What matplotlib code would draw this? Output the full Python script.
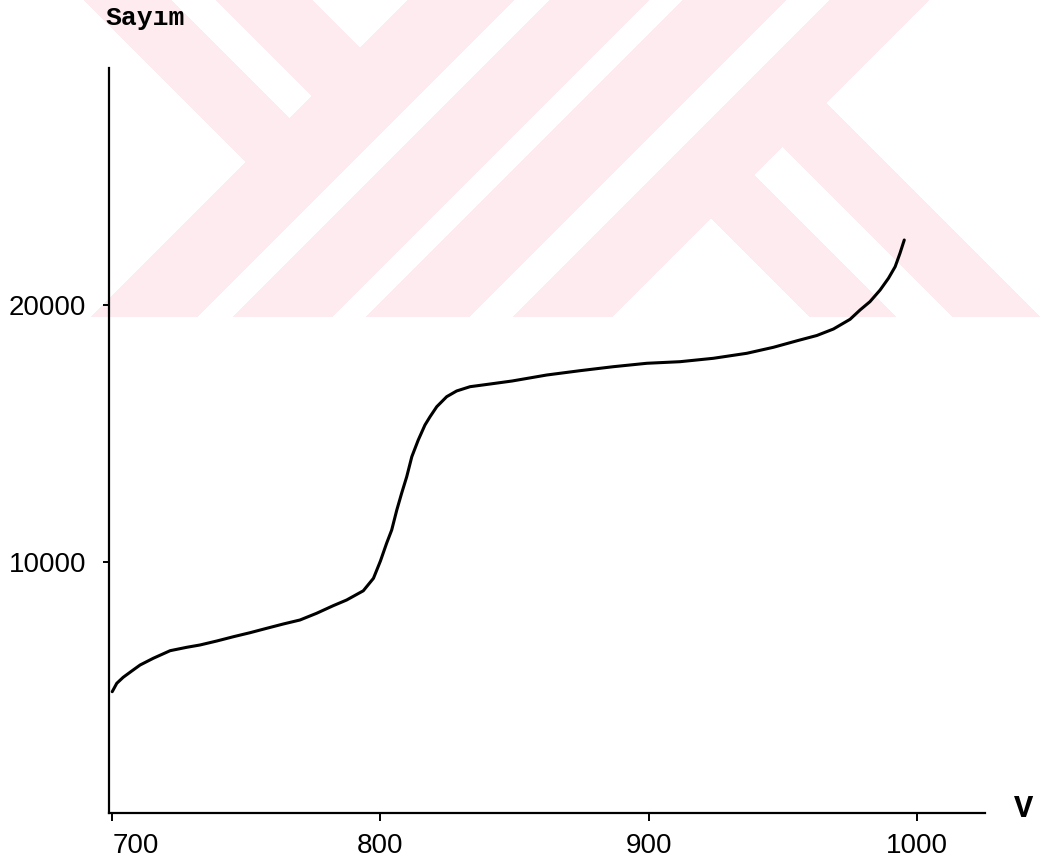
import numpy as np
import matplotlib
matplotlib.use("Agg")
import matplotlib.pyplot as plt

# ---- data ----
volts = [700, 701.7, 704.1, 707.3, 710.4, 715.3, 721.6, 727.8, 732.7, 739, 745.2,
         751.4, 757.6, 763.8, 770, 776.2, 782.4, 787.4, 793.6, 797.4, 800, 802.3,
         804.2, 806.1, 807.9, 809.8, 811.7, 814.1, 816.6, 818.5, 821, 824.7, 828.4,
         833.4, 840.9, 849.1, 862, 874.4, 886.8, 899.3, 911.7, 924.1, 936.6, 946.5,
         955.7, 962.7, 968.9, 975.1, 978.8, 982.5, 986.3, 989.4, 991.9, 993.7, 995.3]
counts = [4953, 5280, 5514, 5759, 5992, 6253, 6549, 6681, 6770, 6926, 7093,
          7249, 7420, 7588, 7743, 8004, 8300, 8521, 8879, 9366, 10039, 10728,
          11245, 12023, 12673, 13319, 14097, 14747, 15331, 15654, 16043, 16432, 16654,
          16821, 16926, 17043, 17276, 17444, 17599, 17732, 17794, 17926, 18121, 18354,
          18619, 18813, 19066, 19444, 19805, 20129, 20584, 21039, 21490, 22012, 22529]
x_ticks = [700, 800, 900, 1000]
y_ticks = [10000, 20000]
y_title = "Sayım"
x_title = "V"

W, H = 1041, 860
fig = plt.figure(figsize=(W / 100, H / 100), dpi=100)

# ---- faint watermark in the background (page decoration) ----
yy, xx = np.mgrid[0:H, 0:W] + 0.5
s = xx + yy
d = yy - xx
left = (s < 408) & (((d > -172) & (d < -83)) | ((d > -313) & (d < -215)))
mid = (((s >= 408) & (s < 515)) | ((s >= 550) & (s < 650)) |
       ((s >= 683) & (s < 787)) | ((s >= 830) & (s < 930)))
right = (s >= 930) & (((d > -724) & (d < -635)) | ((d > -580) & (d < -492)))
pink = (left | mid | right) & (yy < 317)
img = np.ones((H, W, 3))
img[pink] = np.array([253, 235, 239]) / 255.0
bg = fig.add_axes([0, 0, 1, 1], zorder=0)
bg.imshow(img, aspect="auto", interpolation="nearest", extent=(0, W, H, 0))
bg.axis("off")

# ---- main axes ----
ax = fig.add_axes([109 / W, 1 - 813 / H, (985 - 109) / W, (813 - 68) / H], zorder=1)
ax.set_facecolor("none")
ax.plot(volts, counts, color="black", lw=2.2, solid_joinstyle="round",
        solid_capstyle="round")
ax.set_xlim(698.8, 1025.4)
ax.set_ylim(233, 29222)
for sp in ("top", "right"):
    ax.spines[sp].set_visible(False)
for sp in ("left", "bottom"):
    ax.spines[sp].set_linewidth(1.6)
    ax.spines[sp].set_color("black")

ax.set_xticks(x_ticks)
ax.set_xticklabels([str(t) for t in x_ticks])
ax.set_yticks(y_ticks)
ax.set_yticklabels([str(t) for t in y_ticks])
ax.tick_params(axis="x", direction="out", length=6, width=1.4, pad=8.5, labelsize=20)
ax.tick_params(axis="y", direction="out", length=4.5, width=1.4, pad=12, labelsize=20)
for lbl in ax.get_xticklabels() + ax.get_yticklabels():
    lbl.set_family("Liberation Sans")
ax.xaxis.get_major_ticks()[0].label1.set_horizontalalignment("left")

fig.text(105 / W, 1 - 6 / H, y_title, family="Liberation Mono", weight="bold",
         fontsize=19, ha="left", va="top")
fig.text(1024 / W, 1 - 809 / H, x_title, family="Liberation Mono", weight="bold",
         fontsize=23, ha="center", va="center")

fig.savefig("out.png", dpi=100)
